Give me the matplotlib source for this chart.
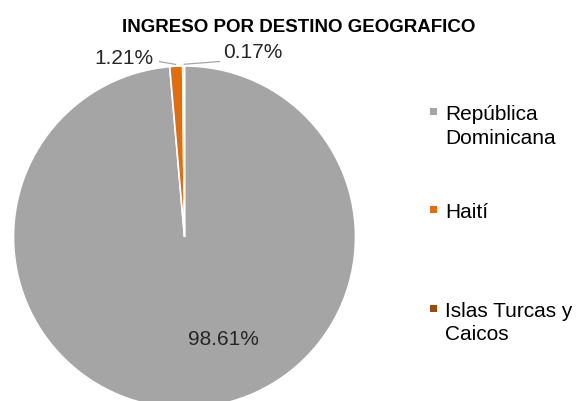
import matplotlib
matplotlib.use("Agg")
import numpy as np
import matplotlib.pyplot as plt
from matplotlib.patches import Rectangle

# ---- data ----
categories = ["República\nDominicana", "Haití", "Islas Turcas y\nCaicos"]
shares = [98.61, 1.21, 0.17]
colors = ["#A5A5A5", "#E46C0A", "#9C4A0E"]
title = "INGRESO POR DESTINO GEOGRAFICO"

W, H = 577, 402
CX, CY, R = 184.5, 238.0, 171.0  # pie centre / radius in pixels (top-left origin)
LIM = 1.2

plt.rcParams["font.family"] = ["Liberation Sans", "DejaVu Sans"]

fig = plt.figure(figsize=(W / 100, H / 100), dpi=100)
ax = fig.add_axes([(CX - LIM * R) / W, (H - CY - LIM * R) / H,
                   2 * LIM * R / W, 2 * LIM * R / H])
wedges, _ = ax.pie(shares, colors=colors, startangle=90, counterclock=False,
                   wedgeprops=dict(edgecolor="white", linewidth=1.2))
ax.set_aspect("auto")
ax.set_xlim(-LIM, LIM)
ax.set_ylim(-LIM, LIM)
ax.axis("off")


def to_data(x, y):
    """pixel (top-left origin) -> pie data coords"""
    return (x - CX) / R, (CY - y) / R


# data labels: (pixel anchor, horizontal alignment); leader start for the small ones
label_anchor = [(223, 345, "center"), (153, 64, "right"), (223, 58.5, "left")]
leader_from = [None, (159, 62.5), (220, 62.5)]

for w, v, (lx, ly, ha), lead in zip(wedges, shares, label_anchor, leader_from):
    x, y = to_data(lx, ly)
    ax.text(x, y, f"{v:.2f}%", fontsize=15, ha=ha, va="baseline", color="#262626")
    if lead is not None:
        mid = np.deg2rad((w.theta1 + w.theta2) / 2)
        sx, sy = to_data(*lead)
        ax.plot([sx, np.cos(mid) * 1.01], [sy, np.sin(mid) * 1.01],
                color="#A6A6A6", lw=0.9, solid_capstyle="butt", clip_on=False)

fig.text(122 / W, 1 - 32 / H, title, fontsize=13.5, fontweight="bold",
         ha="left", va="baseline", color="black")

# legend drawn by hand so that the square sits on the first text line
for i, (lab, c) in enumerate(zip(categories, colors)):
    yb = 120 + i * 98.3
    sq = 7
    fig.add_artist(Rectangle(((433 - sq / 2) / W, 1 - (yb - 7.5 + sq / 2) / H),
                             sq / W, sq / H, transform=fig.transFigure,
                             facecolor=c, edgecolor="none"))
    for k, line in enumerate(lab.split("\n")):
        fig.text(445 / W, 1 - (yb + k * 23.5) / H, line, fontsize=15,
                 ha="left", va="baseline", color="black")

fig.savefig("out.png", dpi=100)
